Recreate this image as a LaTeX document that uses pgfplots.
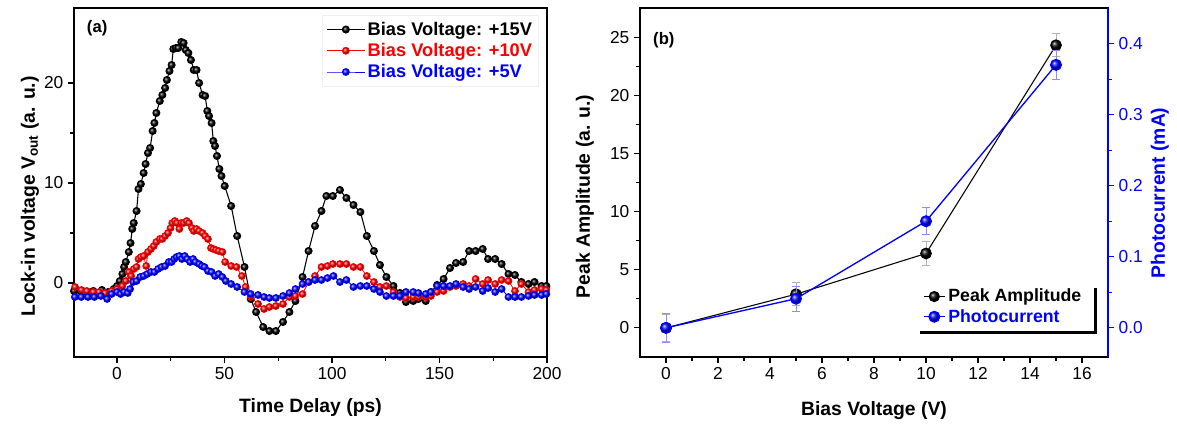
\documentclass[border=0pt]{standalone}
\usepackage{fontspec}
\setmainfont{Liberation Sans}
\usepackage{pgfplots}
\pgfplotsset{compat=1.18}
\definecolor{myred}{RGB}{250,0,0}
\definecolor{myblue}{RGB}{0,0,250}
\begin{document}
\begin{tikzpicture}
\useasboundingbox (0pt,0pt) rectangle (882.75pt,318pt);
\pgfplotsset{
  every axis/.append style={
    scale only axis,
    /pgf/number format/assume math mode=true,
    tick label style={font=\fontsize{13}{15}\selectfont},
    label style={font=\bfseries\fontsize{14.5}{17}\selectfont},
    tick align=outside,
    major tick length=4.5pt,
    minor tick length=2.8pt,
    axis line style={line width=0.9pt},
    tick style={line width=0.8pt, black},
  },
}
% ---------------- (a) ----------------
\begin{axis}[
  at={(55.5pt,50.25pt)}, anchor=south west,
  width=354.75pt, height=261.75pt,
  xmin=-20, xmax=200, ymin=-7.4, ymax=27.5,
  xtick={0,50,100,150,200}, ytick={0,10,20},
  minor x tick num=1, minor y tick num=1,
  xtick pos=bottom, ytick pos=left,
  xlabel={Time Delay (ps)},
  ylabel={Lock-in voltage V\textsubscript{out} (a. u.)},
  xlabel style={at={(axis description cs:0.5,-0.146)}, anchor=center},
  ylabel style={at={(axis description cs:-0.093,0.46)}, anchor=center},
  legend style={at={(rel axis cs:0.983,0.980)}, anchor=north east,
    draw=gray!12, fill=white, font=\bfseries\fontsize{13.7}{16}\selectfont,
    row sep=0.5pt, inner xsep=3pt, inner ysep=3pt},
  legend cell align=left,
  legend image code/.code={\draw[mark repeat=2,mark phase=2] plot coordinates {(0pt,0pt) (14pt,0pt) (28pt,0pt)};},
]
\addplot[black, line width=0.8pt, mark=ball, mark size=2.6pt, mark options={ball color=black}] coordinates {
(-20,-0.8) (-17,-0.8) (-14,-0.9) (-11,-0.8) (-7,-0.7) (-4.1,-0.9) (-1.5,-0.6)
(0,-0.3) (1.3,0.2) (2.5,0.9) (3.3,1.6) (4.1,2.1) (5.5,3.1) (6.3,4.0) (7.1,5.4)
(7.8,6.0) (9.1,7.2) (10,9.4) (11.1,9.9) (12.4,11.0) (13.3,11.9) (14.4,13.0)
(15.4,13.5) (16.6,15.2) (17.4,16.0) (18.3,17.0) (19.9,18.2) (21.1,18.8)
(22.4,19.5) (23.2,20.3) (24.4,21.2) (25.4,21.8) (26.2,23.4) (27.4,23.5)
(28.5,23.5) (29.9,24.1) (31,24.0) (32,23.3) (33.2,23.0) (34.4,22.3)
(35.7,21.3) (37,21.3) (38.2,20.0) (39.8,18.8) (41,18.7) (42,17.2) (42.8,16.7)
(44,16.0) (44.8,14.2) (45.6,13.7) (46.5,12.7) (47.6,11.4) (48.6,10.7)
(50.1,9.7) (53.1,7.7) (55.9,4.7) (59.3,1.6) (62.2,-1.6) (64.7,-2.9)
(68,-4.4) (70.9,-4.8) (73.9,-4.8) (77.2,-3.9) (80.2,-2.9) (83,-1.8)
(86.3,0.6) (89.1,3.2) (92.1,5.7) (95.1,7.2) (97.4,8.7) (100.4,8.7)
(103.7,9.3) (106.7,8.5) (110,7.8) (113.2,7.1) (116.2,4.7) (119.5,3.2)
(122.3,1.8) (125.3,0.6) (128.6,-0.3) (131.6,-1.0) (134.4,-1.9) (137.8,-1.8)
(140.2,-1.6) (143.6,-1.8) (146,-0.9) (148.9,-0.2) (151.9,0.4) (154.9,1.5)
(157.7,2.0) (161,2.1) (163.8,3.2) (166.8,3.2) (170.1,3.4) (172.6,2.4)
(175.9,2.4) (178.9,1.9) (182.1,0.9) (185.1,0.8) (188.1,0.1) (191.4,-0.1)
(194.2,0.1) (197.5,-0.3) (199.7,-0.3)
};
\addlegendentry{Bias Voltage: +15V}
\addplot[myred, line width=0.6pt, mark=ball, mark size=2.6pt, mark options={ball color=myred}] coordinates {
(-19.5,-0.4) (-16.5,-0.7) (-14,-0.8) (-11,-0.9) (-8.3,-0.9) (-5.5,-1.0) (-2.5,-0.8)
(0,-0.6) (2.5,-0.3) (4.1,0.2) (5.5,1.1) (6.6,0.7) (7.8,1.4) (9.1,1.6) (10,2.4)
(11.1,2.6) (12.4,2.7) (13.6,1.7) (14.4,3.1) (15.8,3.4) (17.1,3.7) (18.3,4.1)
(19.9,4.4) (21.1,4.4) (22.4,4.7) (23.7,5.0) (24.9,5.5) (25.7,6.0) (26.9,6.2)
(27.9,6.0) (29,5.4) (29.9,6.0) (31,6.0) (32.4,6.2) (33.5,6.0) (34.9,5.5)
(35.7,5.2) (37,5.4) (38.2,5.2) (39.8,5.0) (41,4.7) (42.3,4.4) (43.7,3.5)
(44.8,3.4) (46,3.3) (47.3,3.2) (49,3.1) (50.3,2.1) (53.1,1.7) (55.6,1.6)
(58.1,0.7) (59.8,-0.4) (62.2,-1.4) (65.6,-2.1) (68.4,-2.6) (70.9,-2.4)
(73.9,-2.3) (77.2,-2.1) (80.2,-1.4) (83,-1.3) (86.3,-1.1) (89.1,0.1)
(92.1,0.7) (95.1,1.6) (97.9,1.7) (100.4,1.9) (103.7,1.9) (106.7,1.9)
(110,1.6) (113.2,1.6) (116.2,0.7) (119.5,0.1) (122.3,-0.4) (125.3,-0.3)
(128.6,-0.9) (131.6,-1.4) (134.4,-1.5) (137.8,-1.4) (140.2,-1.4) (143.6,-1.4)
(146,-1.3) (148.9,-0.9) (151.9,-0.8) (154.9,-0.4) (157.7,-0.3) (161,-0.1)
(163.8,-0.3) (166.8,0.4) (170.1,-0.1) (172.6,0.3) (175.9,-0.1) (178.9,0.3)
(182.1,0.2) (185.1,-0.8) (188.1,-0.1) (191.4,-0.9) (194.2,-0.7) (197.5,-0.6)
(199.7,-0.7)
};
\addlegendentry{\textcolor{myred}{Bias Voltage: +10V}}
\addplot[myblue, line width=0.6pt, mark=ball, mark size=2.6pt, mark options={ball color=myblue}] coordinates {
(-19.6,-1.4) (-16.6,-1.4) (-13.5,-1.4) (-10.5,-1.4) (-7.5,-1.3) (-4.6,-1.6) (-2.5,-1.1)
(0,-0.9) (1.7,-1.1) (3.3,-0.9) (5,-1.0) (6.1,-0.6) (7.5,0.1) (9.1,0.2)
(10.8,0.6) (12.4,0.7) (14.1,0.9) (15.8,1.1) (17.4,1.1) (19.1,1.4) (20.7,1.6)
(22.4,1.7) (24.1,2.1) (25.4,2.1) (26.6,2.4) (27.7,2.6) (29,2.7) (30.2,2.4)
(31.5,2.7) (32.7,2.4) (34,2.1) (35.4,2.4) (36.5,2.1) (38.2,1.9) (39.5,1.7)
(40.7,1.6) (42.3,1.2) (44,1.1) (45.6,0.7) (47.3,0.9) (49,0.6) (50.6,0.2)
(53.1,-0.1) (55.9,-0.4) (59.3,-0.9) (62.2,-1.1) (65.6,-1.2) (68.4,-1.4)
(70.9,-1.5) (73.9,-1.5) (77.2,-1.3) (80.2,-1.0) (83,-0.6) (86.3,-0.1)
(89.1,0.1) (92.1,0.3) (95.1,0.3) (97.9,0.5) (100.7,0.7) (103.7,0.1)
(106.7,0.3) (110,-0.4) (113.2,-0.3) (116.2,-0.3) (119.5,-0.6) (122.3,-0.9)
(125.3,-1.3) (128.6,-1.3) (131.6,-1.3) (134.4,-0.9) (137.8,-0.9) (140.2,-1.0)
(143.6,-1.1) (146,-0.9) (148.9,-0.3) (151.9,-0.3) (154.9,-0.3) (157.7,-0.1)
(161,-0.4) (163.8,-0.6) (166.8,-0.4) (170.1,-0.8) (172.6,-0.5) (175.9,-0.9)
(178.9,-0.6) (182.1,-1.4) (185.1,-1.4) (188.1,-1.4) (191.4,-1.3) (194.2,-1.2)
(197.5,-1.2) (199.7,-1.1)
};
\addlegendentry{\textcolor{myblue}{Bias Voltage: +5V}}
\node[font=\bfseries\fontsize{12.5}{15}\selectfont] at (rel axis cs:0.049,0.943) {(a)};
\end{axis}
% ---------------- (b) left axis ----------------
\begin{axis}[
  at={(480pt,50.25pt)}, anchor=south west,
  width=351pt, height=261.75pt,
  xmin=-1, xmax=17, ymin=-2.5, ymax=27.5,
  xtick={0,2,4,6,8,10,12,14,16}, ytick={0,5,10,15,20,25},
  minor x tick num=1, minor y tick num=1,
  xtick pos=bottom, ytick pos=left,
  xlabel={Bias Voltage (V)},
  ylabel={Peak Amplitude (a. u.)},
  xlabel style={at={(axis description cs:0.5,-0.152)}, anchor=center},
  ylabel style={at={(axis description cs:-0.118,0.46)}, anchor=center},
]
\addplot[black, line width=0.8pt, mark=ball, mark size=4pt, mark options={ball color=black},
  error bars/.cd, y dir=both, y explicit,
  error bar style={gray!60, line width=0.6pt},
  error mark options={rotate=90, mark size=3pt, gray!60, line width=0.6pt}]
coordinates {
(0,0) +- (0,1.2)
(5,2.9) +- (0,1.0)
(10,6.4) +- (0,1.0)
(15,24.3) +- (0,1.0)
};
\node[font=\bfseries\fontsize{12.5}{15}\selectfont] at (rel axis cs:0.051,0.908) {(b)};
\end{axis}
% ---------------- (b) right axis ----------------
\begin{axis}[
  at={(480pt,50.25pt)}, anchor=south west,
  width=351pt, height=261.75pt,
  xmin=-1, xmax=17, ymin=-0.041, ymax=0.450,
  axis x line=none, axis y line*=right,
  y axis line style={myblue, line width=0.9pt},
  ytick={0,0.1,0.2,0.3,0.4}, minor y tick num=1,
  tick style={myblue, line width=0.8pt},
  yticklabel style={myblue, /pgf/number format/fixed, /pgf/number format/fixed zerofill, /pgf/number format/precision=1},
  ylabel={Photocurrent (mA)},
  ylabel style={myblue, at={(axis description cs:1.111,0.47)}, anchor=center},
  legend style={at={(rel axis cs:0.955,0.078)}, anchor=south east,
    draw=none, fill=none, font=\bfseries\fontsize{13.3}{15.5}\selectfont,
    row sep=0pt, inner xsep=2pt, inner ysep=2pt},
  legend cell align=left,
  legend image code/.code={\draw[mark repeat=2,mark phase=2] plot coordinates {(0pt,0pt) (8pt,0pt) (16pt,0pt)};},
]
\addlegendimage{black, line width=0.8pt, mark=ball, mark size=3.8pt, mark options={ball color=black}}
\addlegendentry{Peak Amplitude}
\addplot[myblue, line width=1pt, mark=ball, mark size=4pt, mark options={ball color=myblue},
  error bars/.cd, y dir=both, y explicit,
  error bar style={myblue!45, line width=0.6pt},
  error mark options={rotate=90, mark size=3pt, myblue!45, line width=0.6pt}]
coordinates {
(0,0.0) +- (0,0.02)
(5,0.041) +- (0,0.018)
(10,0.150) +- (0,0.019)
(15,0.370) +- (0,0.020)
};
\addlegendentry{\textcolor{myblue}{Photocurrent}}
\draw[line width=2.3pt, black] (rel axis cs:0.598,0.069) -- (rel axis cs:0.974,0.069) -- (rel axis cs:0.974,0.197);
\end{axis}
\end{tikzpicture}
\end{document}
